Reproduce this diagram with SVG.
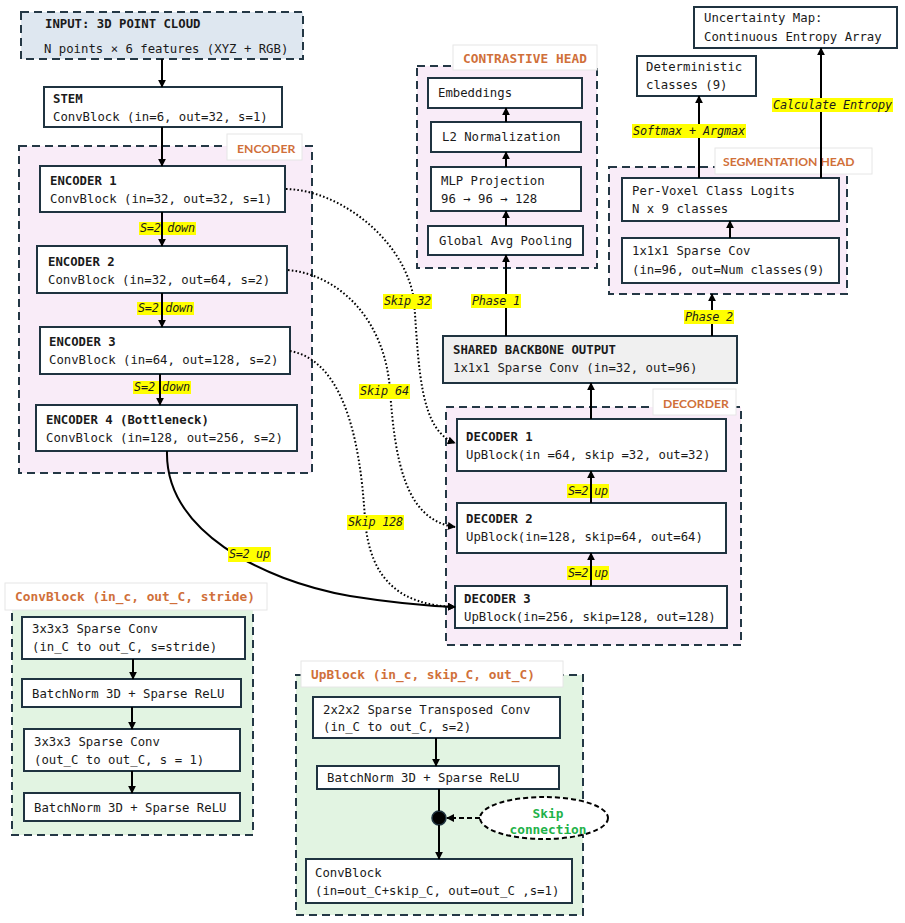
<svg xmlns="http://www.w3.org/2000/svg" width="905" height="923" viewBox="0 0 905 923">
<defs>
<marker id="ah" viewBox="0 0 10 10" refX="9" refY="5" markerWidth="8" markerHeight="8" markerUnits="userSpaceOnUse" orient="auto"><path d="M0,0 L10,5 L0,10 z" fill="#000"/></marker>
<style>
.box{fill:#fff;stroke:#1f3340;stroke-width:2}
.grp{stroke:#243845;stroke-width:2;stroke-dasharray:8,5}
.pink{fill:#f9ecf8}
.green{fill:#e2f4e2}
.tag{fill:#fff;stroke:#e6e6e6;stroke-width:1}
.t{font-family:"DejaVu Sans Mono","Liberation Mono",monospace;font-size:12.3px;fill:#1a1a1a}
.b{font-weight:bold}
.ot{font-family:"DejaVu Sans Mono","Liberation Mono",monospace;font-size:12.8px;font-weight:bold;fill:#d0703a}
.os{font-family:Lato,"Liberation Sans",Arial,sans-serif;font-size:12.2px;font-weight:bold;fill:#d0703a}
.lbl{font-family:"DejaVu Sans Mono","Liberation Mono",monospace;font-size:11.8px;font-style:italic;fill:#1a1a1a}
.hl{fill:#ffff00}
.ln{stroke:#000;stroke-width:2;fill:none}
.dot{stroke:#000;stroke-width:2;fill:none;stroke-dasharray:1.6,2.2}
</style>
</defs>

<!-- group containers -->
<g id="encoder-group">
<rect class="grp pink" x="19" y="146" width="293" height="327"/>
<rect class="tag" x="227" y="134" width="75" height="26"/>
<text class="os" x="237" y="153">ENCODER</text>
</g>
<g id="contrastive-group">
<rect class="grp pink" x="417" y="66" width="180" height="202"/>
<rect class="tag" x="453" y="45" width="144" height="25"/>
<text class="ot" x="463" y="63" textLength="124">CONTRASTIVE HEAD</text>
</g>
<g id="segmentation-group">
<rect class="grp pink" x="609" y="167" width="238" height="127"/>
<rect class="tag" x="715" y="148" width="157" height="26"/>
<text class="os" x="723" y="166">SEGMENTATION HEAD</text>
</g>
<g id="decoder-group">
<rect class="grp pink" x="446" y="407" width="295" height="238"/>
<rect class="tag" x="653" y="389" width="83" height="26"/>
<text class="os" x="663" y="408">DECORDER</text>
</g>
<g id="convblock-group">
<rect class="grp green" x="12" y="608" width="241" height="227"/>
<rect class="tag" x="5" y="583" width="262" height="27"/>
<text class="ot" x="15" y="601" textLength="240">ConvBlock (in_c, out_C, stride)</text>
</g>
<g id="upblock-group">
<rect class="grp green" x="296" y="675" width="287" height="240"/>
<rect class="tag" x="301" y="661" width="262" height="26"/>
<text class="ot" x="311" y="679" textLength="224">UpBlock (in_c, skip_C, out_C)</text>
</g>

<!-- nodes -->
<g id="input">
<rect x="21" y="12" width="282" height="47" fill="#dee7f0" class="grp"/>
<text class="t b" x="45" y="28">INPUT: 3D POINT CLOUD</text>
<text class="t" x="44" y="53">N points × 6 features (XYZ + RGB)</text>
</g>
<g id="stem">
<rect class="box" x="44" y="87" width="238" height="40"/>
<text class="t b" x="53" y="103">STEM</text>
<text class="t" x="53" y="121">ConvBlock (in=6, out=32, s=1)</text>
</g>
<g id="enc1">
<rect class="box" x="40" y="166" width="245" height="46"/>
<text class="t b" x="50" y="185">ENCODER 1</text>
<text class="t" x="50" y="203">ConvBlock (in=32, out=32, s=1)</text>
</g>
<g id="enc2">
<rect class="box" x="37" y="246" width="250" height="47"/>
<text class="t b" x="48" y="266">ENCODER 2</text>
<text class="t" x="48" y="284">ConvBlock (in=32, out=64, s=2)</text>
</g>
<g id="enc3">
<rect class="box" x="40" y="327" width="250" height="47"/>
<text class="t b" x="49" y="346">ENCODER 3</text>
<text class="t" x="49" y="364">ConvBlock (in=64, out=128, s=2)</text>
</g>
<g id="enc4">
<rect class="box" x="36" y="405" width="261" height="46"/>
<text class="t b" x="46" y="424">ENCODER 4 (Bottleneck)</text>
<text class="t" x="46" y="442">ConvBlock (in=128, out=256, s=2)</text>
</g>
<g id="embeddings">
<rect class="box" x="428" y="78" width="154" height="30"/>
<text class="t" x="438" y="97">Embeddings</text>
</g>
<g id="l2norm">
<rect class="box" x="431" y="122" width="150" height="30"/>
<text class="t" x="442" y="141">L2 Normalization</text>
</g>
<g id="mlp">
<rect class="box" x="431" y="167" width="150" height="44"/>
<text class="t" x="441" y="185">MLP Projection</text>
<text class="t" x="441" y="203">96 → 96 → 128</text>
</g>
<g id="gap">
<rect class="box" x="428" y="226" width="155" height="29"/>
<text class="t" x="439" y="245">Global Avg Pooling</text>
</g>
<g id="uncertainty">
<rect class="box" x="694" y="7" width="203" height="41"/>
<text class="t" x="704" y="22">Uncertainty Map:</text>
<text class="t" x="704" y="41">Continuous Entropy Array</text>
</g>
<g id="deterministic">
<rect class="box" x="637" y="56" width="119" height="40"/>
<text class="t" x="646" y="71">Deterministic</text>
<text class="t" x="646" y="89">classes (9)</text>
</g>
<g id="logits">
<rect class="box" x="622" y="178" width="217" height="43"/>
<text class="t" x="632" y="195">Per-Voxel Class Logits</text>
<text class="t" x="632" y="213">N x 9 classes</text>
</g>
<g id="segconv">
<rect class="box" x="622" y="238" width="217" height="45"/>
<text class="t" x="632" y="255">1x1x1 Sparse Cov</text>
<text class="t" x="632" y="274">(in=96, out=Num classes(9)</text>
</g>
<g id="backbone">
<rect class="box" x="443" y="336" width="294" height="47" style="fill:#f0f0f0"/>
<text class="t b" x="453" y="354">SHARED BACKBONE OUTPUT</text>
<text class="t" x="453" y="372">1x1x1 Sparse Conv (in=32, out=96)</text>
</g>
<g id="dec1">
<rect class="box" x="457" y="419" width="269" height="52"/>
<text class="t b" x="466" y="441">DECODER 1</text>
<text class="t" x="466" y="459">UpBlock(in =64, skip =32, out=32)</text>
</g>
<g id="dec2">
<rect class="box" x="457" y="503" width="269" height="50"/>
<text class="t b" x="466" y="523">DECODER 2</text>
<text class="t" x="466" y="541">UpBlock(in=128, skip=64, out=64)</text>
</g>
<g id="dec3">
<rect class="box" x="455" y="586" width="272" height="42"/>
<text class="t b" x="464" y="603">DECODER 3</text>
<text class="t" x="464" y="621">UpBlock(in=256, skip=128, out=128)</text>
</g>
<g id="cb-conv1">
<rect class="box" x="22" y="617" width="223" height="42"/>
<text class="t" x="32" y="633">3x3x3 Sparse Conv</text>
<text class="t" x="32" y="651">(in_C to out_C, s=stride)</text>
</g>
<g id="cb-bn1">
<rect class="box" x="22" y="679" width="219" height="28"/>
<text class="t" x="32" y="698">BatchNorm 3D + Sparse ReLU</text>
</g>
<g id="cb-conv2">
<rect class="box" x="24" y="729" width="216" height="42"/>
<text class="t" x="34" y="746">3x3x3 Sparse Conv</text>
<text class="t" x="34" y="764">(out_C to out_C, s = 1)</text>
</g>
<g id="cb-bn2">
<rect class="box" x="24" y="793" width="216" height="28"/>
<text class="t" x="34" y="812">BatchNorm 3D + Sparse ReLU</text>
</g>
<g id="ub-tconv">
<rect class="box" x="313" y="697" width="247" height="41"/>
<text class="t" x="323" y="714">2x2x2 Sparse Transposed Conv</text>
<text class="t" x="323" y="731">(in_C to out_C, s=2)</text>
</g>
<g id="ub-bn">
<rect class="box" x="317" y="766" width="242" height="23"/>
<text class="t" x="327" y="782">BatchNorm 3D + Sparse ReLU</text>
</g>
<g id="ub-convblock">
<rect class="box" x="306" y="859" width="266" height="44"/>
<text class="t" x="315" y="877">ConvBlock</text>
<text class="t" x="315" y="895">(in=out_C+skip_C, out=out_C ,s=1)</text>
</g>
<g id="ub-join">
<circle cx="439" cy="818" r="7" fill="#000" stroke="#1f3340" stroke-width="1.5"/>
</g>
<g id="ub-skip">
<ellipse cx="544" cy="818" rx="64" ry="21" fill="#fff" stroke="#000" stroke-width="2" stroke-dasharray="5,3"/>
<text class="t b" x="548" y="818" text-anchor="middle" style="fill:#1fb24a;font-size:12.8px">Skip</text>
<text class="t b" x="548" y="834" text-anchor="middle" style="fill:#1fb24a;font-size:12.8px">connection</text>
</g>

<!-- connectors -->
<g id="connectors">
<line class="ln" x1="162" y1="59" x2="162" y2="87" marker-end="url(#ah)"/>
<line class="ln" x1="162" y1="127" x2="162" y2="166" marker-end="url(#ah)"/>
<rect class="hl" x="139" y="222" width="57" height="13"/>
<text class="lbl" x="140" y="232" textLength="55">S=2 down</text>
<line class="ln" x1="162" y1="212" x2="162" y2="246" marker-end="url(#ah)"/>
<rect class="hl" x="137" y="302" width="57" height="13"/>
<text class="lbl" x="138" y="312" textLength="55">S=2 down</text>
<line class="ln" x1="162" y1="293" x2="162" y2="327" marker-end="url(#ah)"/>
<rect class="hl" x="133" y="381" width="58" height="13"/>
<text class="lbl" x="134" y="391" textLength="56">S=2 down</text>
<line class="ln" x1="160" y1="374" x2="160" y2="405" marker-end="url(#ah)"/>

<path class="dot" d="M286,189 C340,190 405,240 414,300 C419,370 420,430 455,443" marker-end="url(#ah)"/>
<path class="dot" d="M288,270 C340,275 385,320 390,390 C395,460 405,520 455,527" marker-end="url(#ah)"/>
<path class="dot" d="M290,351 C340,360 360,430 365,520 C370,580 400,605 455,607" marker-end="url(#ah)"/>
<path class="ln" d="M167,451 C165,530 260,580 350,596 C400,604 430,606 455,607" marker-end="url(#ah)"/>
<rect class="hl" x="383" y="294" width="49" height="15"/>
<text class="lbl" x="384" y="305" textLength="47">Skip 32</text>
<rect class="hl" x="359" y="384" width="51" height="15"/>
<text class="lbl" x="360" y="395" textLength="49">Skip 64</text>
<rect class="hl" x="347" y="515" width="57" height="15"/>
<text class="lbl" x="348" y="526" textLength="55">Skip 128</text>
<rect class="hl" x="228" y="547" width="43" height="15"/>
<text class="lbl" x="229" y="558" textLength="41">S=2 up</text>

<rect class="hl" x="567" y="484" width="42" height="14"/>
<text class="lbl" x="568" y="495" textLength="40">S=2 up</text>
<line class="ln" x1="591" y1="503" x2="591" y2="471" marker-end="url(#ah)"/>
<rect class="hl" x="567" y="566" width="42" height="14"/>
<text class="lbl" x="568" y="577" textLength="40">S=2 up</text>
<line class="ln" x1="591" y1="586" x2="591" y2="553" marker-end="url(#ah)"/>
<line class="ln" x1="591" y1="419" x2="591" y2="383" marker-end="url(#ah)"/>

<line class="ln" x1="506" y1="336" x2="506" y2="255" marker-end="url(#ah)"/>
<rect class="hl" x="471" y="294" width="50" height="14"/>
<text class="lbl" x="472" y="305" textLength="48">Phase 1</text>
<line class="ln" x1="506" y1="226" x2="506" y2="211" marker-end="url(#ah)"/>
<line class="ln" x1="506" y1="167" x2="506" y2="152" marker-end="url(#ah)"/>
<line class="ln" x1="506" y1="122" x2="506" y2="108" marker-end="url(#ah)"/>

<line class="ln" x1="712" y1="336" x2="712" y2="294" marker-end="url(#ah)"/>
<rect class="hl" x="684" y="310" width="50" height="14"/>
<text class="lbl" x="685" y="321" textLength="48">Phase 2</text>
<line class="ln" x1="730" y1="238" x2="730" y2="221" marker-end="url(#ah)"/>
<line class="ln" x1="699" y1="178" x2="699" y2="96" marker-end="url(#ah)"/>
<rect class="hl" x="632" y="124" width="114" height="14"/>
<text class="lbl" x="633" y="135" textLength="112">Softmax + Argmax</text>
<line class="ln" x1="821" y1="178" x2="821" y2="48" marker-end="url(#ah)"/>
<rect class="hl" x="772" y="98" width="121" height="14"/>
<text class="lbl" x="773" y="109" textLength="119">Calculate Entropy</text>

<line class="ln" x1="133" y1="659" x2="133" y2="679" marker-end="url(#ah)"/>
<line class="ln" x1="132" y1="707" x2="132" y2="729" marker-end="url(#ah)"/>
<line class="ln" x1="132" y1="771" x2="132" y2="793" marker-end="url(#ah)"/>

<line class="ln" x1="436" y1="738" x2="436" y2="766" marker-end="url(#ah)"/>
<line class="ln" x1="439" y1="789" x2="439" y2="811"/>
<line class="ln" x1="439" y1="825" x2="439" y2="859" marker-end="url(#ah)"/>
<line class="ln" x1="480" y1="818" x2="447" y2="818" stroke-dasharray="5,3" marker-end="url(#ah)"/>
</g>
</svg>
